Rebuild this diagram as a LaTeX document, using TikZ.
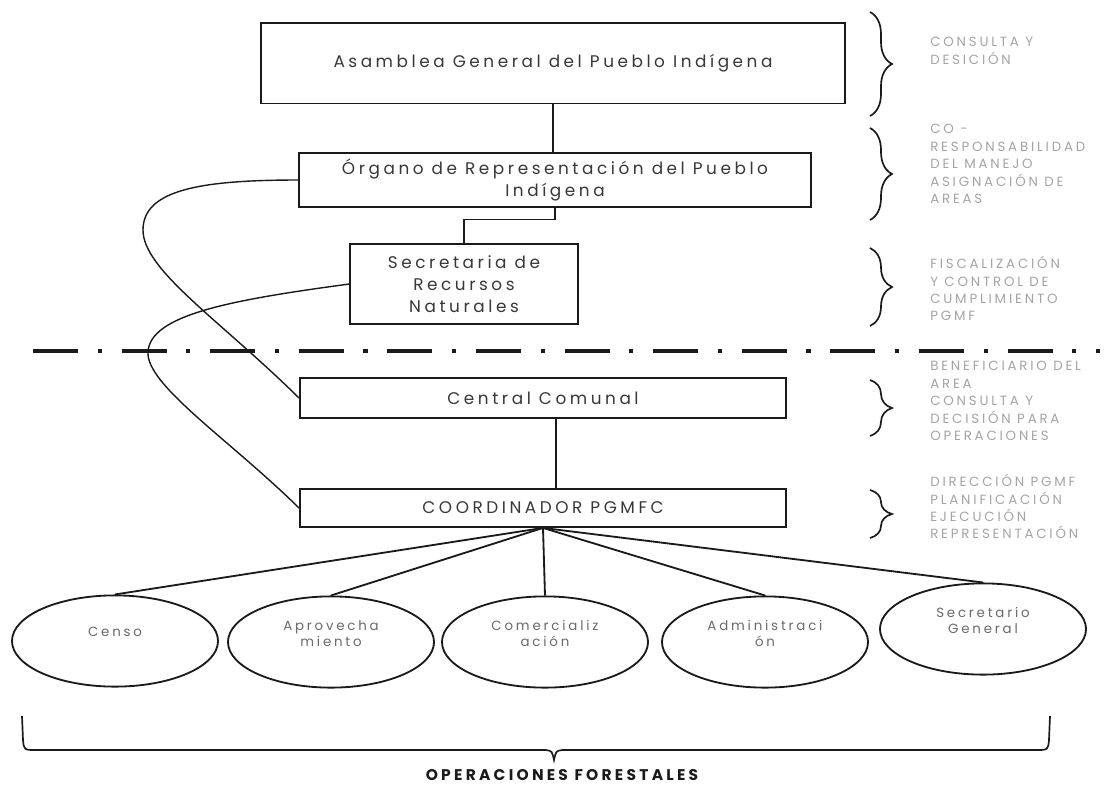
\documentclass[tikz,border=0pt]{standalone}
\usepackage{fontspec}
\setmainfont{Poppins}
\newfontfamily\gothic{Poppins}[LetterSpace=21]
\usepackage{tikz}
\usetikzlibrary{positioning,shapes.geometric,decorations.pathreplacing}
\definecolor{ink}{HTML}{1A1A1A}
\definecolor{boxtext}{HTML}{383838}
\definecolor{ovaltext}{HTML}{6A6A6A}
\definecolor{notegray}{HTML}{A4A4A4}
\tikzset{
  orgbox/.style ={draw=ink,line width=1.3pt,fill=white,inner sep=2pt,align=center,
                  text=boxtext,font=\gothic\fontsize{12}{15.5}\selectfont},
  oval/.style   ={ellipse,draw=ink,line width=1.3pt,fill=white,inner sep=0pt,
                  minimum width=5.15cm,minimum height=2.28cm},
  ovaltxt/.style={align=center,text=ovaltext,yshift=0.22cm,
                  font=\gothic\fontsize{9.5}{11.5}\selectfont},
  note/.style   ={anchor=north west,align=left,inner sep=0pt,text=notegray,
                  font=\gothic\fontsize{9.5}{12.4}\selectfont},
  link/.style   ={draw=ink,line width=1.3pt},
  tie/.style    ={draw=ink,line width=1pt},
  curly/.style  ={draw=ink,line width=1.2pt,decorate,decoration={brace,amplitude=0.55cm}},
  divider/.style={draw=ink,line width=2.2pt,dash pattern=on 32pt off 14pt on 3pt off 14pt}
}

\begin{document}
\begin{tikzpicture}[x=0.025cm,y=-0.025cm]
  \useasboundingbox (0,0) rectangle (1113,785);
  \node[orgbox,minimum width=14.58cm,minimum height=2.02cm] (asam) at (553,63)
    {Asamblea General del Pueblo Indígena};
  \node[orgbox,minimum width=12.78cm,minimum height=1.33cm] (org) at (555,180)
    {Órgano de Representación del Pueblo\\Indígena};
  \node[orgbox,minimum width=5.68cm,minimum height=1.98cm] (sec) at (464,284)
    {Secretaria de\\Recursos\\Naturales};
  \node[orgbox,minimum width=12.15cm,minimum height=1cm] (cc) at (543,398) {Central Comunal};
  \node[orgbox,minimum width=12.15cm,minimum height=0.95cm] (coord) at (543,508) {COORDINADOR PGMFC};

  \draw[link] (asam.south) -- (asam.south |- org.north);
  \draw[link] (org.south) -- ++(0,12) -| (sec.north);
  \draw[link] ([xshift=0.33cm]cc.south) -- ([xshift=0.33cm]coord.north);

  \draw[tie] (org.west) .. controls (200,180) and (143,190) .. (143,230)
    .. controls (143,270) and (220,320) .. (cc.west);
  \draw[tie] (sec.west) .. controls (230,300) and (150,315) .. (148,352)
    .. controls (146,385) and (230,440) .. (coord.west);

  \draw[divider] (33,351) -- (1100,351);

  \node[oval,label={[ovaltxt]center:Censo}] (censo) at (115,641) {};
  \node[oval,label={[ovaltxt]center:{Aprovecha\\miento}}] (aprov) at (331,642) {};
  \node[oval,label={[ovaltxt]center:{Comercializ\\ación}}] (comer) at (545,642) {};
  \node[oval,label={[ovaltxt]center:{Administraci\\ón}}] (admin) at (765,642) {};
  \node[oval,label={[ovaltxt]center:{Secretario\\General}}] (secgen) at (983,629) {};
  \foreach \o in {censo,aprov,comer,admin,secgen}
    \draw[link] (coord.south) -- (\o.north);

  \draw[curly] (870,12) -- (870,116);
  \draw[curly] (870,128) -- (870,220);
  \draw[curly] (870,248) -- (870,326);
  \draw[curly] (870,380) -- (870,436);
  \draw[curly] (870,490) -- (870,538);

  \node[note] (n1) at (930,37) {CONSULTA Y\\DESICIÓN};
  \node[note] (n2) at (930,124) {CO -\\RESPONSABILIDAD\\DEL MANEJO\\ASIGNACIÓN DE\\AREAS};
  \node[note] (n3) at (930,256) {FISCALIZACIÓN\\Y CONTROL DE\\CUMPLIMIENTO\\PGMF};
  \node[note] (n4) at (930,361) {BENEFICIARIO DEL\\AREA\\CONSULTA Y\\DECISIÓN PARA\\OPERACIONES};
  \node[note] (n5) at (930,474) {DIRECCIÓN PGMF\\PLANIFICACIÓN\\EJECUCIÓN\\REPRESENTACIÓN};

  \draw[link,line width=1.2pt] (22,716) -- (23,740) .. controls (24,750) .. (36,750) -- (546,750)
    .. controls (552,751) .. (554,760) .. controls (556,751) .. (562,750) -- (1036,750)
    .. controls (1048,750) .. (1049,740) -- (1050,716);
  \node[text=ink,font=\gothic\bfseries\fontsize{11}{13}\selectfont] (ops) at (562,775)
    {OPERACIONES FORESTALES};
\end{tikzpicture}
\end{document}
